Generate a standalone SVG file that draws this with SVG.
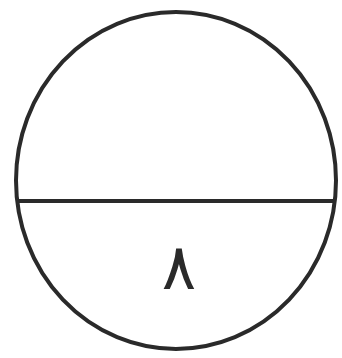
<svg xmlns="http://www.w3.org/2000/svg" width="342" height="358" viewBox="0 0 342 358">
<style>
.s{fill:none;stroke:#2a2a2a;stroke-width:4}
.t{font-family:"DejaVu Sans","Noto Sans",sans-serif;font-size:64px;fill:#2a2a2a;text-anchor:middle}
</style>
<rect width="342" height="358" fill="#fff"/>
<g id="circle">
<ellipse class="s" cx="176" cy="180.5" rx="160" ry="168.5"/>
</g>
<g id="connectors">
<line class="s" x1="17" y1="201" x2="336" y2="201"/>
</g>
<g id="label">
<text class="t" x="179" y="289">٨</text>
</g>
</svg>
